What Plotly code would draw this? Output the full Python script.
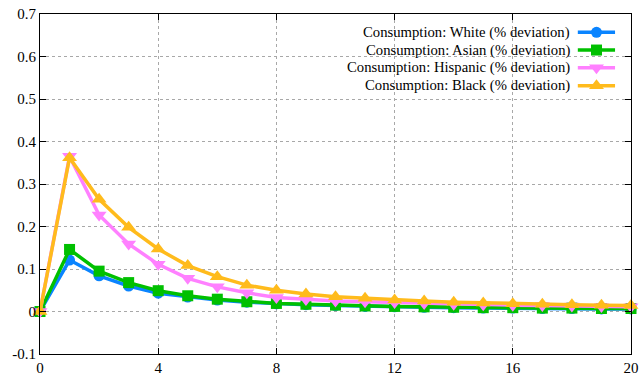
import plotly.graph_objects as go

# Impulse-response horizon (quarters)
periods = list(range(21))

# Consumption responses, % deviation from steady state
white = [0.0, 0.121, 0.084, 0.060, 0.043, 0.034, 0.027, 0.022, 0.018, 0.016, 0.014,
         0.012, 0.011, 0.010, 0.009, 0.008, 0.008, 0.007, 0.007, 0.006, 0.006]
asian = [0.0, 0.146, 0.095, 0.068, 0.049, 0.037, 0.029, 0.023, 0.019, 0.017, 0.015,
         0.013, 0.012, 0.011, 0.010, 0.009, 0.009, 0.008, 0.008, 0.007, 0.007]
hispanic = [0.0, 0.365, 0.227, 0.159, 0.111, 0.078, 0.058, 0.044, 0.033, 0.028, 0.025,
            0.023, 0.021, 0.019, 0.017, 0.016, 0.015, 0.014, 0.013, 0.012, 0.011]
black = [0.0, 0.362, 0.264, 0.198, 0.147, 0.108, 0.082, 0.062, 0.050, 0.041, 0.035,
         0.031, 0.027, 0.025, 0.022, 0.020, 0.018, 0.017, 0.016, 0.015, 0.014]

series_names = ["Consumption: White (% deviation)",
                "Consumption: Asian (% deviation)",
                "Consumption: Hispanic (% deviation)",
                "Consumption: Black (% deviation)"]
series_values = [white, asian, hispanic, black]
series_colors = ["#0a84ff", "#00c000", "#ff80ff", "#ffbb1c"]
series_symbols = ["circle", "square", "triangle-down", "triangle-up"]
series_sizes = [11, 11, 13, 13]

x_ticks = [0, 4, 8, 12, 16, 20]
x_tick_labels = ["0", "4", "8", "12", "16", "20"]
y_ticks = [-0.1, 0.0, 0.1, 0.2, 0.3, 0.4, 0.5, 0.6, 0.7]
y_tick_labels = ["-0.1", "0", "0.1", "0.2", "0.3", "0.4", "0.5", "0.6", "0.7"]

FONT = "Liberation Serif"

fig = go.Figure()
for name, vals, col, sym, sz in zip(series_names, series_values, series_colors,
                                    series_symbols, series_sizes):
    fig.add_trace(go.Scatter(
        x=periods, y=vals, name=name, mode="lines+markers",
        line=dict(color=col, width=3.5),
        marker=dict(symbol=sym, size=sz, color=col),
        cliponaxis=False, showlegend=False,
    ))

# Key: right-aligned labels with line/marker samples to their right
key_rows = [0.946, 0.894, 0.842, 0.789]
key_line = (0.910, 0.973)
key_mark = 0.9416
key_text_x = 0.9005

fig.add_shape(type="rect", xref="paper", yref="paper", x0=0.50, x1=0.998,
              y0=0.762, y1=0.998, fillcolor="white", line=dict(width=0),
              layer="between")
for name, col, sym, sz, ry in zip(series_names, series_colors, series_symbols,
                                  series_sizes, key_rows):
    fig.add_shape(type="line", xref="paper", yref="paper",
                  x0=key_line[0], x1=key_line[1], y0=ry, y1=ry,
                  line=dict(color=col, width=3.5), layer="above")
    fig.add_annotation(x=key_text_x, y=ry, xref="paper", yref="paper",
                       text=name, showarrow=False, xanchor="right",
                       yanchor="middle", font=dict(family=FONT, size=14.7, color="black"))
    fig.add_trace(go.Scatter(
        x=[key_mark], y=[ry], xaxis="x2", yaxis="y2", mode="markers",
        marker=dict(symbol=sym, size=sz, color=col), showlegend=False,
        cliponaxis=False, hoverinfo="skip",
    ))

axis_common = dict(
    showline=True, linecolor="black", linewidth=1.2, mirror="ticks",
    ticks="inside", ticklen=6, tickcolor="black", tickwidth=1,
    showgrid=True, gridcolor="#a8a8a8", griddash="dot", gridwidth=1,
    zeroline=False, automargin=False,
    tickfont=dict(family=FONT, size=15, color="black"),
)

fig.update_layout(
    width=639, height=381,
    margin=dict(l=40, r=8, t=14, b=27),
    paper_bgcolor="white", plot_bgcolor="white",
    xaxis=dict(range=[0, 20], tickvals=x_ticks, ticktext=x_tick_labels, **axis_common),
    yaxis=dict(range=[-0.1, 0.7], tickvals=y_ticks, ticktext=y_tick_labels, **axis_common),
    xaxis2=dict(range=[0, 1], overlaying="x", visible=False, anchor="y2"),
    yaxis2=dict(range=[0, 1], overlaying="y", visible=False, anchor="x2"),
)

fig.write_html("out.html")
